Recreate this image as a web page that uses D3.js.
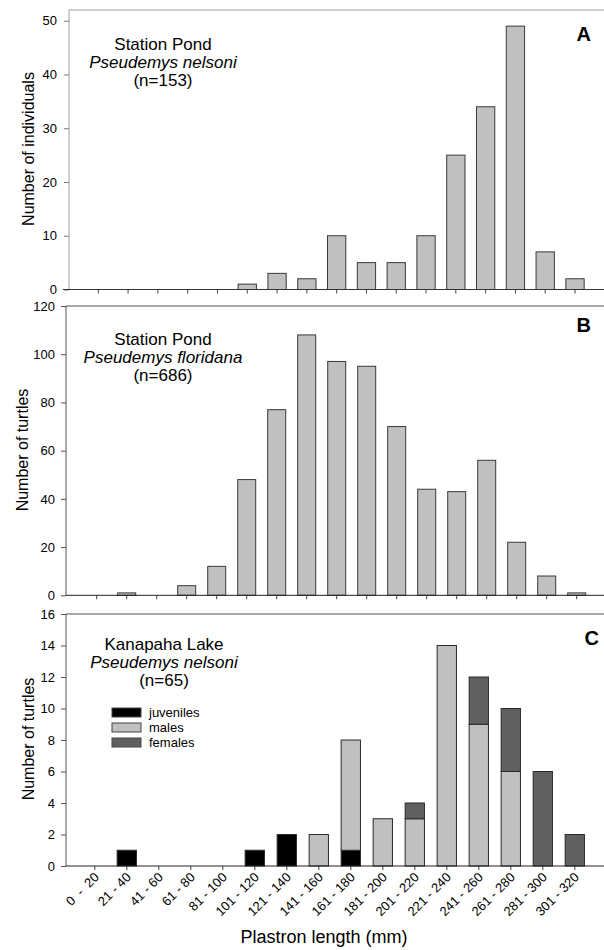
<!DOCTYPE html>
<html>
<head>
<meta charset="utf-8">
<script src="https://cdn.jsdelivr.net/npm/d3@7"></script>
<style>
  html, body { margin: 0; padding: 0; background: #fff; }
  svg { display: block; font-family: "Liberation Sans", Arial, sans-serif; }
</style>
</head>
<body>
<svg id="chart" width="604" height="950"></svg>
<script>
// Size-class bins used by the two Station Pond histograms (17 bins, unlabelled)
const pondBins = ["b01","b02","b03","b04","b05","b06","b07","b08","b09","b10","b11","b12","b13","b14","b15","b16","b17"];
// Counts, Station Pond, Pseudemys nelsoni
const pondNelsoni = [0,0,0,0,0,1,3,2,10,5,5,10,25,34,49,7,2];
// Counts, Station Pond, Pseudemys floridana
const pondFloridana = [0,1,0,4,12,48,77,108,97,95,70,44,43,56,22,8,1];

// Plastron length classes for Kanapaha Lake
const lakeClasses = ["0  -  20","21 - 40","41 - 60","61 - 80","81 - 100","101 - 120","121 - 140","141 - 160",
                     "161 - 180","181 - 200","201 - 220","221 - 240","241 - 260","261 - 280","281 - 300","301 - 320"];
const lakeJuveniles = [0,1,0,0,0,1,2,0,1,0,0,0,0,0,0,0];
const lakeMales     = [0,0,0,0,0,0,0,2,7,3,3,14,9,6,0,0];
const lakeFemales   = [0,0,0,0,0,0,0,0,0,0,1,0,3,4,6,2];

const groups = ["juveniles","males","females"];
const groupColors = ["#000000","#c0c0c0","#606060"];

const svg = d3.select("#chart");
const FONT = "'Liberation Sans', Arial, sans-serif";

function titleBlock(g, cx, y0, lines) {
  lines.forEach((ln, i) => {
    g.append("text")
      .attr("x", cx).attr("y", y0 + i * 18)
      .attr("text-anchor", "middle")
      .attr("font-size", 17)
      .attr("font-style", ln.italic ? "italic" : "normal")
      .attr("fill", "#000")
      .text(ln.t);
  });
}

function yAxisDraw(g, y, axisX, ticks, tickColor, labelEnd) {
  const ax = g.append("g").attr("transform", `translate(${axisX},0)`)
    .call(d3.axisLeft(y).tickValues(ticks).tickSize(5).tickPadding(axisX - labelEnd - 5));
  ax.select(".domain").remove();
  ax.selectAll(".tick line").attr("stroke", tickColor);
  ax.selectAll(".tick text").attr("font-size", 13).attr("font-family", FONT).attr("fill", "#000");
}

// ---------- Panel A ----------
(function () {
  const g = svg.append("g");
  const x = d3.scaleBand().domain(pondBins).range([83.4, 589.9]).paddingInner(0.386).paddingOuter(0.193);
  const y = d3.scaleLinear().domain([0, 52]).range([289.5, 10]);
  const axisX = 69;
  // frame top and left axis
  g.append("line").attr("x1", axisX).attr("x2", 604).attr("y1", y(52)).attr("y2", y(52)).attr("stroke", "#a0a0a0");
  g.append("line").attr("x1", axisX).attr("x2", axisX).attr("y1", y(52)).attr("y2", y(0)).attr("stroke", "#a0a0a0");
  yAxisDraw(g, y, axisX, [0,10,20,30,40,50], "#777", 57);
  g.selectAll("rect.bar").data(pondNelsoni).join("rect")
    .attr("class", "bar")
    .attr("x", (d, i) => x(pondBins[i])).attr("width", x.bandwidth())
    .attr("y", d => y(d)).attr("height", d => y(0) - y(d))
    .attr("fill", "#c0c0c0").attr("stroke", "#3a3a3a").attr("stroke-width", 1)
    .attr("display", d => d > 0 ? null : "none");
  const xa = g.append("g").attr("transform", `translate(0,${y(0)})`)
    .call(d3.axisBottom(x).tickSize(4).tickFormat(""));
  xa.select(".domain").remove();
  xa.selectAll(".tick line").attr("stroke", "#444");
  g.append("line").attr("x1", axisX - 6).attr("x2", 604).attr("y1", y(0)).attr("y2", y(0)).attr("stroke", "#333");
  titleBlock(g, 163, 50, [{t: "Station Pond"}, {t: "Pseudemys nelsoni", italic: true}, {t: "(n=153)"}]);
  g.append("text").attr("x", 591).attr("y", 40.5).attr("text-anchor", "end")
    .attr("font-size", 20).attr("font-weight", "bold").text("A");
  g.append("text").attr("transform", `translate(34,149) rotate(-90)`).attr("text-anchor", "middle")
    .attr("font-size", 16).text("Number of individuals");
})();

// ---------- Panel B ----------
(function () {
  const g = svg.append("g");
  const x = d3.scaleBand().domain(pondBins).range([81.7, 591.7]).paddingInner(0.4).paddingOuter(0.2);
  const y = d3.scaleLinear().domain([0, 120]).range([595.3, 306]);
  const axisX = 66;
  g.append("line").attr("x1", axisX).attr("x2", 604).attr("y1", y(120)).attr("y2", y(120)).attr("stroke", "#555");
  g.append("line").attr("x1", axisX).attr("x2", axisX).attr("y1", y(120)).attr("y2", y(0)).attr("stroke", "#555");
  yAxisDraw(g, y, axisX, [0,20,40,60,80,100,120], "#555", 55);
  g.selectAll("rect.bar").data(pondFloridana).join("rect")
    .attr("class", "bar")
    .attr("x", (d, i) => x(pondBins[i])).attr("width", x.bandwidth())
    .attr("y", d => y(d)).attr("height", d => y(0) - y(d))
    .attr("fill", "#c0c0c0").attr("stroke", "#3a3a3a").attr("stroke-width", 1)
    .attr("display", d => d > 0 ? null : "none");
  const xa = g.append("g").attr("transform", `translate(0,${y(0)})`)
    .call(d3.axisBottom(x).tickSize(4).tickFormat(""));
  xa.select(".domain").remove();
  xa.selectAll(".tick line").attr("stroke", "#444");
  g.append("line").attr("x1", axisX).attr("x2", 604).attr("y1", y(0)).attr("y2", y(0)).attr("stroke", "#222");
  titleBlock(g, 163, 345, [{t: "Station Pond"}, {t: "Pseudemys floridana", italic: true}, {t: "(n=686)"}]);
  g.append("text").attr("x", 591).attr("y", 332.3).attr("text-anchor", "end")
    .attr("font-size", 20).attr("font-weight", "bold").text("B");
  g.append("text").attr("transform", `translate(28,450) rotate(-90)`).attr("text-anchor", "middle")
    .attr("font-size", 16).text("Number of turtles");
})();

// ---------- Panel C ----------
(function () {
  const g = svg.append("g");
  const x = d3.scaleBand().domain(lakeClasses).range([78.8, 590.8]).paddingInner(0.397).paddingOuter(0.1985);
  const y = d3.scaleLinear().domain([0, 16]).range([866, 614]);
  const axisX = 66;
  g.append("line").attr("x1", axisX).attr("x2", 604).attr("y1", y(16)).attr("y2", y(16)).attr("stroke", "#555");
  g.append("line").attr("x1", axisX).attr("x2", axisX).attr("y1", y(16)).attr("y2", y(0)).attr("stroke", "#555");
  yAxisDraw(g, y, axisX, d3.range(0, 17, 2), "#555", 55);

  const rows = lakeClasses.map((c, i) => ({ cls: c, juveniles: lakeJuveniles[i], males: lakeMales[i], females: lakeFemales[i] }));
  const stacked = d3.stack().keys(groups)(rows);
  stacked.forEach((layer, k) => {
    g.selectAll(null).data(layer.filter(d => d[1] > d[0])).join("rect")
      .attr("x", d => x(d.data.cls)).attr("width", x.bandwidth())
      .attr("y", d => y(d[1])).attr("height", d => y(d[0]) - y(d[1]))
      .attr("fill", groupColors[k]).attr("stroke", "#2a2a2a").attr("stroke-width", 1);
  });
  const xa = g.append("g").attr("transform", `translate(0,${y(0)})`)
    .call(d3.axisBottom(x).tickSize(4).tickPadding(0));
  xa.select(".domain").remove();
  xa.selectAll(".tick line").attr("stroke", "#444");
  xa.selectAll(".tick text")
    .attr("font-size", 13).attr("font-family", FONT).attr("fill", "#000")
    .attr("text-anchor", "end")
    .attr("y", 0).attr("dy", 0)
    .attr("transform", "translate(5,12) rotate(-45)")
    .attr("xml:space", "preserve")
    .style("white-space", "pre");
  g.append("line").attr("x1", axisX).attr("x2", 604).attr("y1", y(0)).attr("y2", y(0)).attr("stroke", "#222");

  titleBlock(g, 164, 650, [{t: "Kanapaha Lake"}, {t: "Pseudemys nelsoni", italic: true}, {t: "(n=65)"}]);
  g.append("text").attr("x", 599).attr("y", 645).attr("text-anchor", "end")
    .attr("font-size", 20).attr("font-weight", "bold").text("C");
  g.append("text").attr("transform", `translate(34,739) rotate(-90)`).attr("text-anchor", "middle")
    .attr("font-size", 16).text("Number of turtles");

  // legend
  const lg = g.append("g").attr("transform", "translate(112,708)");
  groups.forEach((name, i) => {
    lg.append("rect").attr("x", 0).attr("y", i * 15).attr("width", 29).attr("height", 9)
      .attr("fill", groupColors[i]).attr("stroke", "#444").attr("stroke-width", 1);
    lg.append("text").attr("x", 37).attr("y", i * 15 + 8.5).attr("font-size", 13).text(name);
  });

  svg.append("text").attr("x", 324).attr("y", 943).attr("text-anchor", "middle")
    .attr("font-size", 18).text("Plastron length (mm)");
})();
</script>
</body>
</html>
